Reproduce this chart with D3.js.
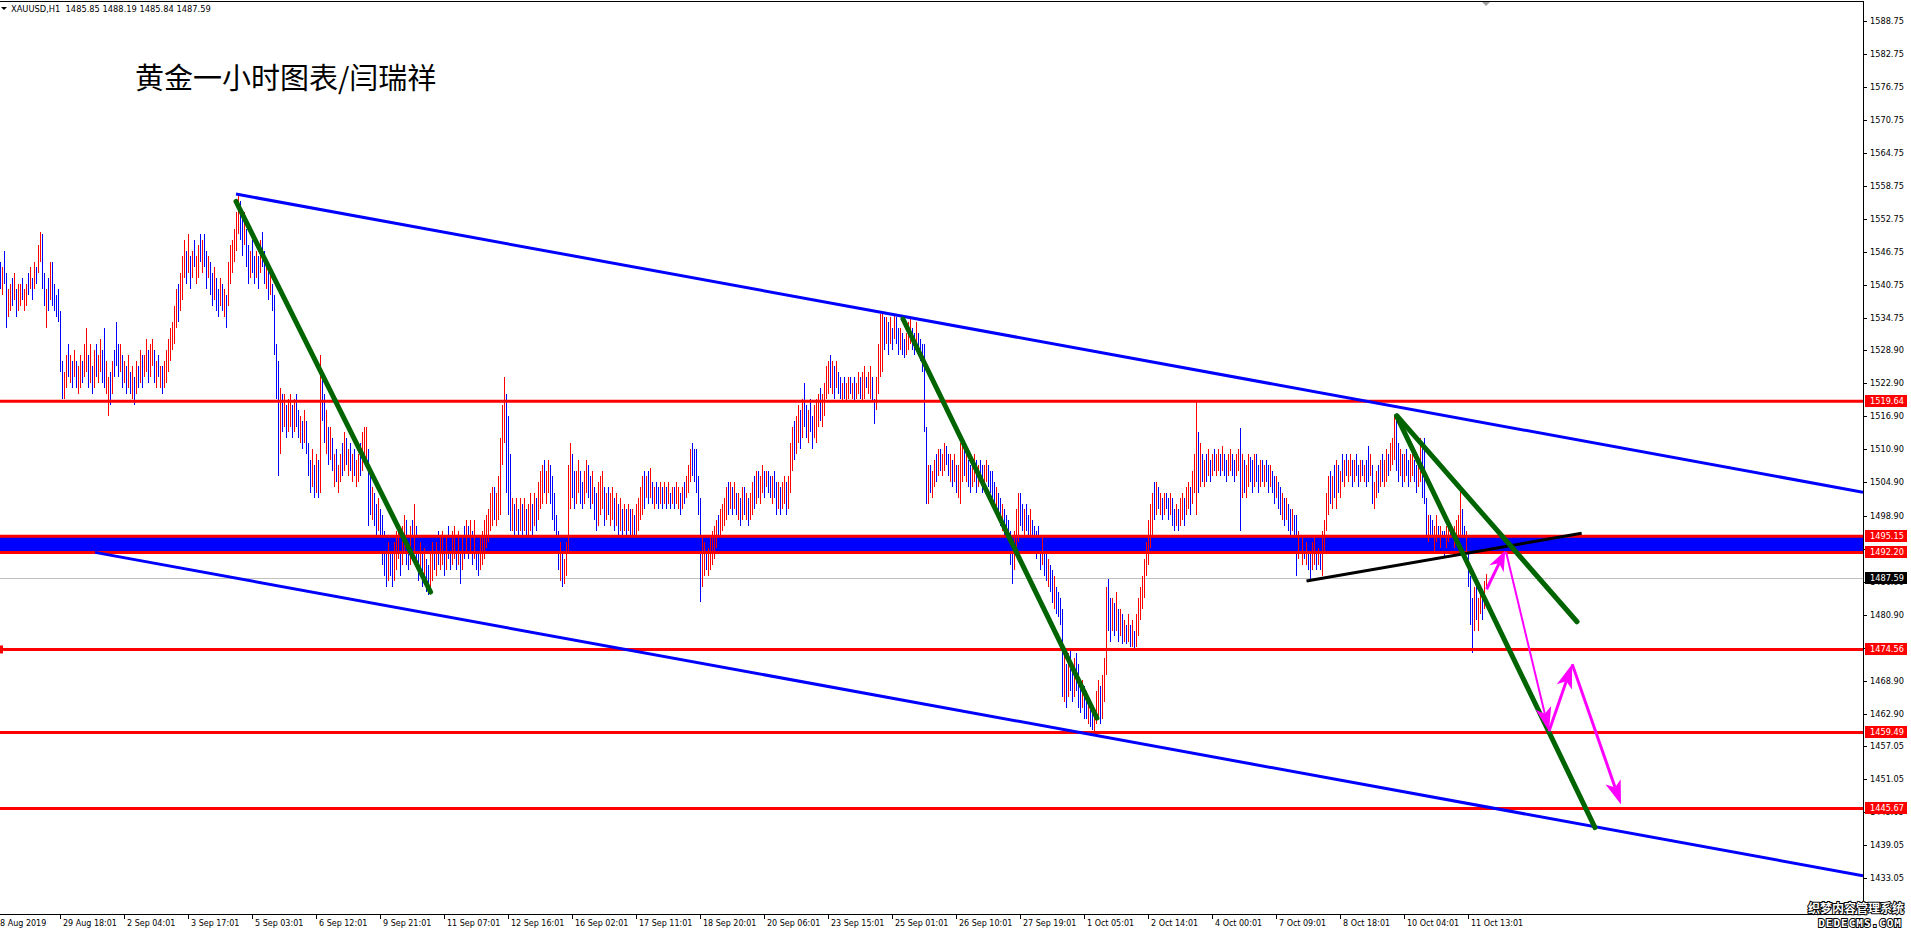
<!DOCTYPE html>
<html><head><meta charset="utf-8">
<script src="https://cdn.jsdelivr.net/npm/d3@7"></script>
<style>body{margin:0;background:#fff;overflow:hidden}svg{display:block}</style>
</head><body><svg id="c" width="1911" height="936"></svg>
<script>
const symbolInfo = "XAUUSD,H1  1485.85 1488.19 1485.84 1487.59";
const chartTitle = "黄金一小时图表/闫瑞祥";

// H1 bars (one per hour), low / high / direction (1 = up bar red, 0 = down bar blue)
const barLow = [
1540,1539,1541,1533,1535,1536,1537,1538,1535,1536,
1537,1538,1536,1537,1539,1540,1538,1540,1541,1543,
1545,1540,1537,1533,1536,1538,1537,1536,1535,1534,
1525,1520,1520,1522,1524,1523,1522,1524,1522,1521,
1522,1523,1524,1525,1522,1523,1521,1522,1524,1523,
1525,1523,1522,1521,1517,1519,1521,1524,1526,1524,
1525,1522,1523,1521,1522,1521,1520,1519,1521,1522,
1523,1522,1524,1525,1523,1524,1526,1523,1522,1524,
1522,1521,1522,1523,1525,1527,1529,1530,1533,1534,
1536,1538,1542,1541,1543,1540,1542,1544,1541,1542,
1545,1543,1544,1540,1542,1539,1537,1538,1536,1535,
1537,1536,1535,1533,1537,1541,1543,1545,1547,1550,
1549,1546,1548,1544,1541,1542,1543,1541,1542,1540,
1543,1544,1541,1540,1538,1539,1536,1528,1520,1506,
1510,1514,1515,1513,1514,1515,1513,1514,1515,1513,
1512,1511,1512,1510,1506,1503,1504,1502,1503,1502,
1503,1516,1512,1510,1508,1509,1507,1504,1505,1503,
1505,1506,1507,1508,1506,1507,1505,1506,1504,1505,
1506,1507,1509,1508,1497,1499,1498,1497,1495,1496,
1494,1490,1488,1486,1487,1488,1486,1487,1489,1491,
1488,1490,1492,1490,1489,1490,1491,1492,1490,1487,
1488,1486,1487,1485,1484.5,1486,1487,1489,1488,1490,
1489,1490,1488,1489,1491,1489,1490,1491,1489,1490,
1486.5,1489,1491,1492,1491,1492,1490,1491,1489,1488,
1489,1490,1491,1493,1494,1496,1497,1498,1497,1498,
1499,1508,1512,1503,1499,1496,1496,1495,1496,1495,
1496,1495,1496,1494,1495,1496,1495,1497,1496,1498,
1500,1501,1503,1501,1503,1501,1498,1496,1493,1489,
1487,1486,1486.5,1488,1492,1500,1502,1500,1501,1503,
1501,1500,1501,1503,1502,1500,1501,1498,1496,1497,
1499,1500,1497,1498,1499,1497,1498,1496,1497,1495,
1496,1495,1496,1495,1496,1494,1495,1494,1495,1496,
1498,1499,1500,1502,1501,1502,1501,1500,1501,1500,
1501,1500,1501,1500,1501,1500,1501,1500,1501,1500,
1499,1500,1501,1502,1503,1505,1506,1505,1503,1499,
1483.2,1486,1488,1489,1488,1489,1490,1491,1493,1494,
1495,1496,1497,1498,1499,1500,1499,1500,1499,1498,
1497,1498,1499,1498,1497,1498,1499,1500,1501,1502,
1501,1503,1502,1504,1503,1502,1501,1502,1499,1500,
1499,1500,1501,1499,1500,1503,1507,1509,1510,1512,
1511,1513,1515,1513,1512,1514,1511,1513,1512,1515,
1516,1515,1517,1520,1521,1522,1521,1520,1522,1521,
1520,1519.5,1520,1519.5,1520,1521,1520,1519.5,1520,1521,
1520,1519.5,1520,1522,1521,1520,1519.5,1515.5,1518,1521,
1524,1525,1529,1530,1528,1530,1529,1531,1530,1528,
1529,1528,1527.5,1528,1529,1530,1529,1528,1530,1528,
1527,1525,1514,1501,1501,1503,1502,1504,1505,1506,
1507,1506,1507,1508,1506,1505,1504,1505,1503,1502,
1501,1505,1506,1505,1504,1503,1504,1505,1503,1504,
1505,1503,1504,1505,1504,1503,1502,1501,1499,1498,
1497,1496,1495,1494,1492,1490,1486.5,1489,1492,1494,
1497,1496,1495,1496,1494,1495,1494,1493,1491,1492,
1489,1490,1488,1487,1486,1485,1483,1482,1481,1480.5,
1479,1466,1465,1464,1466,1467,1465,1466,1467,1464,
1463,1464,1462,1462,1461,1460.5,1460,1459.7,1461,1462,
1461,1462,1465,1470,1478,1476,1478,1477,1478,1476,
1477,1475.5,1476,1475.5,1476,1475,1475,1474.8,1475,1477,
1480,1482,1484,1488,1490,1493,1495,1498,1499,1500,
1499,1498,1499,1500,1498,1499,1497,1496,1497,1496,
1497,1498,1497,1499,1500,1499,1501,1503,1499,1503,
1504,1505,1504,1505,1506,1505,1506,1507,1506,1507,
1506,1507,1506,1505,1506,1507,1506,1505,1506,1507,
1496,1502,1503,1502,1504,1505,1503,1504,1505,1503,
1504,1505,1504,1505,1503,1504,1503,1501,1502,1500,
1499,1498,1497,1498,1496,1495,1496,1495,1488,1491,
1492,1490,1491,1490,1489,1487,1489,1490,1489,1490,
1489,1488,1492,1496,1499,1501,1500,1502,1500,1503,
1502,1505,1504,1506,1505,1506,1504,1505,1506,1504,
1505,1506,1505,1504,1505,1506,1501,1500,1502,1503,
1504,1505,1504,1505,1506,1507,1508,1509,1507,1505,
1506,1504,1505,1506,1504,1505,1506,1505,1503,1504,
1505,1502,1501,1492,1494,1495,1493,1492,1494,1492,
1493,1492,1491.5,1493,1494,1493,1492,1493,1494,1495,
1495,1493,1492,1492,1486,1479,1474,1478,1480,1478,
1481,1480,1482,1485.84];
const barHigh = [
1545,1544,1547,1543,1540,1541,1542,1543,1540,1541,
1541,1542,1540,1541,1543,1544,1542,1545,1544,1548,
1550.5,1550,1543,1540,1542,1545,1545,1541,1539,1540,
1536,1527,1525,1528,1530,1528,1527,1529,1527,1526,
1528,1527,1530,1533,1528,1530,1526,1529,1530,1528,
1531,1529,1533,1527,1524,1525,1527,1529,1534,1530,
1530,1528,1527,1526,1528,1525,1526,1524,1527,1526,
1529,1528,1528,1531,1529,1530,1531,1529,1527,1528,
1526,1526,1527,1529,1531,1533,1534,1537,1540,1541,
1543,1546,1549,1547,1550,1546,1547,1549,1546,1548,
1550,1549,1550,1547,1546,1545,1543,1544,1542,1540,
1542,1541,1540,1539,1545,1548,1549,1551,1554,1557,
1556,1553,1554,1551,1548,1547,1549,1546,1547,1546,
1549,1550.5,1547,1545,1544,1543,1541,1539,1530,1527,
1522,1521,1521,1519,1520,1521,1519,1520,1521,1518,
1517,1516,1518,1516,1512,1509,1511,1508,1510,1509,
1528,1524,1521,1518,1515,1515,1513,1510,1511,1508,
1510,1512,1514,1513,1511,1512,1510,1511,1509,1510,
1512,1514,1515,1515,1511,1506,1504,1503,1501,1502,
1500,1499,1496,1493,1494,1495,1492,1494,1496,1497,
1496,1497,1499,1498,1495,1497,1498,1501,1497,1494,
1494,1492,1493,1491,1490,1492,1494,1495,1494,1496,
1495,1496,1494,1495,1497,1495,1496,1497,1495,1496,
1494,1495,1497,1498,1497,1498,1496,1498,1495,1494,
1495,1496,1498,1499,1500,1503,1504,1504,1503,1506,
1513,1519,1524,1521,1517,1510,1502,1501,1502,1500,
1502,1501,1502,1500,1501,1503,1501,1503,1502,1505,
1507,1508,1509,1507,1509,1508,1506,1503,1499,1496,
1494,1492,1491,1494,1508,1512,1510,1507,1507,1509,
1507,1505,1507,1509,1508,1506,1507,1504,1503,1505,
1506,1507,1504,1503,1504,1503,1504,1502,1503,1501,
1502,1500,1501,1500,1501,1500,1500,1499,1501,1502,
1504,1506,1507,1506,1507,1507.5,1505,1504,1505,1504,
1505,1504,1505,1504,1505,1503,1504,1504,1505,1504,
1503,1504,1505,1506,1508,1511,1512,1511,1511,1506,
1502,1495,1494,1494,1493,1495,1496,1497,1498,1499,
1500,1501,1502,1504,1505,1505,1504,1505,1503,1503,
1502,1504,1504,1503,1502,1503,1505,1506,1507,1507,
1506,1508,1507,1507,1507,1506,1506,1507,1505,1505,
1504,1505,1506,1505,1506,1512,1515,1516,1517,1519,
1518,1520,1523,1519,1518,1520,1517,1519,1520,1521,
1522,1521,1523,1526,1527,1528,1527,1526,1527,1525,
1524,1523,1524,1523,1524,1524,1523,1524,1523,1525,
1524,1525,1526,1524,1525,1526,1524,1520,1524,1530,
1535.5,1535.7,1535,1535,1534,1535,1533,1535.5,1535,1533,
1533,1532,1531,1532,1534,1535,1533,1532,1534,1532,
1531,1530,1530,1515,1508,1508,1507,1509,1510,1511,
1511,1510,1512,1511.5,1510,1510,1509,1510,1508,1508,
1512,1512,1512.5,1510,1509,1508,1509,1510,1509,1508,
1509,1508,1508,1509,1508,1507,1507,1505,1504,1503,
1502,1501,1500,1499,1498,1496,1494,1496,1500,1503,
1503,1501,1500,1501,1499,1500,1498,1497,1496,1497,
1495,1495,1494,1492,1491,1490,1489,1488,1486,1485,
1484,1482,1474,1472,1474,1474.5,1472,1473,1474,1472,
1469,1469,1468,1467,1466,1465,1464,1463,1467,1469,
1468,1470,1473,1486,1487.3,1484,1484,1483,1485,1482,
1482,1481,1480,1479,1481,1479,1480,1478,1481,1484,
1486,1488,1491,1494,1498,1501,1503,1505,1505,1504,
1503,1502,1503,1503,1502,1503,1502,1500,1501,1500,
1502,1503,1502,1504,1505,1504,1507,1510,1519.5,1514,
1512,1510,1509,1510,1511,1509,1510,1511,1510,1511,
1510,1511.5,1510,1509,1510,1511,1510,1509,1510,1511,
1514.8,1510,1509,1508,1510,1509.5,1509,1510,1510,1508,
1509,1509,1508,1509,1508,1508,1507,1506,1506,1505,
1504,1503,1502,1502,1501,1500,1500,1499,1499,1496,
1495,1495,1494,1494,1493,1493,1494,1495,1494,1493,
1493,1496,1498,1503,1506,1507,1506,1508,1509,1508,
1507,1510,1509,1510,1509,1510,1509,1509,1510,1508,
1509,1509,1508,1509,1511.5,1510,1508,1505,1507,1508,
1509,1510,1509,1511,1510,1512,1513,1516.8,1516,1512,
1511,1510,1510,1511,1509,1510,1511,1509,1508,1509,
1513,1512,1513,1502,1499,1499,1498,1497,1499,1497,
1497,1496,1496,1497,1498,1497,1496,1497,1498,1499,
1503.5,1500,1497,1496,1493,1488,1484,1486,1487,1484,
1486,1485,1487,1488.19];
const barUp = (
"0100110101 1011010101 1001010000 0011010101 1011010101 " +
"1001101000 1010101010 1011011010 1011111110 1110101011 " +
"0100100100 1010111111 0010010010 1001010000 1010110100 " +
"1010001010 1001010101 1010101011 0111001001 0000100111 " +
"0110010100 1010011010 1101001101 0101010100 1111111011 " +
"1110001010 1010110101 1101100000 1011110011 0011001001 " +
"1101011010 1010101011 1101010100 1010101011 0101110000 " +
"0110111110 1111010101 0101011010 1101001001 0110111011 " +
"0100100111 0111101010 0101101011 0110110011 1101010100 " +
"1001110010 0000101101 0110010101 1101001101 0011000010 " +
"0100000111 0010010000 0100100100 0010100100 0100100111 " +
"0111001010 1010101011 1111111010 1010010010 1101101110 " +
"1010101011 0100110011 0101100100 1010010010 0101001001 " +
"0101001101 0111101010 1010110100 1010010110 1011011100 " +
"1010011001 1000100110 1001100111 1001000101 1011").replace(/ /g, "");

// time axis: label text and bar index of each label
const firstDateLabel = "28 Aug 2019";
const timeLabels = ["29 Aug 18:01","2 Sep 04:01","3 Sep 17:01","5 Sep 03:01","6 Sep 12:01","9 Sep 21:01",
  "11 Sep 07:01","12 Sep 16:01","16 Sep 02:01","17 Sep 11:01","18 Sep 20:01","20 Sep 06:01",
  "23 Sep 15:01","25 Sep 01:01","26 Sep 10:01","27 Sep 19:01","1 Oct 05:01","2 Oct 14:01",
  "4 Oct 00:01","7 Oct 09:01","8 Oct 18:01","10 Oct 04:01","11 Oct 13:01"];
const timeLabelBars = [30,62,94,126,158,190,222,254,286,318,350,382,414,446,478,510,542,574,606,638,670,702,734];

// price axis (1492.90 and 1474.90 sit fully under price tags)
const priceTicks = [1588.75,1582.75,1576.75,1570.75,1564.75,1558.75,1552.75,1546.75,1540.75,1534.75,
  1528.90,1522.90,1516.90,1510.90,1504.90,1498.90,1492.90,1486.90,1480.90,1474.90,1468.90,1462.90,
  1457.05,1451.05,1445.05,1439.05,1433.05];
const hiddenTickLabels = [1492.90, 1474.90];
const priceDomain = [1426.5, 1592.2];
const barDomain = [0, 931.5];

// drawn objects
const hLevels = [1519.64, 1474.56, 1459.49, 1445.67];
const zoneLevels = [1495.15, 1492.20];
const lastPrice = 1487.59;
const channelLines = [ [[118, 1557.3], [931.5, 1503.14]], [[47.5, 1492.2], [931.5, 1433.45]] ];
const greenLines = [ [[118, 1555.96], [215.3, 1485.0]], [[451.5, 1534.6], [548.5, 1462.1]],
  [[698.25, 1517.0], [797.5, 1442.2]], [[698.5, 1517.0], [788.5, 1479.6]] ];
const blackLines = [ [[653.25, 1487.0], [790.85, 1495.67]] ];
const magentaArrows = [ [[743.3, 1485.5], [752.6, 1492.5]], [[753, 1492.3], [774.5, 1459.7]],
  [[774.5, 1459.7], [786.1, 1471.9]], [[786.1, 1471.9], [810.5, 1446.4]] ];

// ---------------- drawing ----------------
const plotL = 0, plotR = 1863, plotT = 2, plotB = 914;
const FONT = "'DejaVu Sans', Tahoma, sans-serif";
const x = d3.scaleLinear().domain(barDomain).range([plotL, plotR]);
const y = d3.scaleLinear().domain(priceDomain).range([plotB, plotT]);
const svg = d3.select("#c");
svg.append("rect").attr("width", 1911).attr("height", 936).attr("fill", "#fff");
svg.append("defs").append("clipPath").attr("id", "clip").append("rect")
  .attr("x", plotL).attr("y", plotT).attr("width", plotR - plotL).attr("height", plotB - plotT);
const g = svg.append("g").attr("clip-path", "url(#clip)");

// zone fill
g.append("rect").attr("x", plotL).attr("width", plotR - plotL)
  .attr("y", y(zoneLevels[0])).attr("height", y(zoneLevels[1]) - y(zoneLevels[0])).attr("fill", "#0000ff");
// last price line
g.append("line").attr("x1", plotL).attr("x2", plotR).attr("y1", Math.round(y(lastPrice)) + 0.5)
  .attr("y2", Math.round(y(lastPrice)) + 0.5).attr("stroke", "#c0c0c0").attr("stroke-width", 1);
// bars
g.append("g").selectAll("line").data(barLow).join("line")
  .attr("x1", (d, i) => Math.round(x(i)) + 0.5).attr("x2", (d, i) => Math.round(x(i)) + 0.5)
  .attr("y1", (d, i) => y(barHigh[i])).attr("y2", d => y(d))
  .attr("stroke", (d, i) => barUp[i] === "1" ? "#ff0000" : "#0000ff").attr("stroke-width", 1)
  .attr("shape-rendering", "crispEdges");
// horizontal levels
g.append("g").selectAll("line").data(hLevels.concat(zoneLevels)).join("line")
  .attr("x1", plotL).attr("x2", plotR).attr("y1", d => y(d)).attr("y2", d => y(d))
  .attr("stroke", "#ff0000").attr("stroke-width", 3);
g.append("rect").attr("x", 0).attr("y", y(hLevels[1]) - 4).attr("width", 3).attr("height", 8).attr("fill", "#ff0000");

const lineGen = d3.line().x(d => x(d[0])).y(d => y(d[1]));
g.append("g").selectAll("path").data(channelLines).join("path").attr("d", lineGen)
  .attr("stroke", "#0000ff").attr("stroke-width", 3).attr("fill", "none");
g.append("g").selectAll("path").data(blackLines).join("path").attr("d", lineGen)
  .attr("stroke", "#000").attr("stroke-width", 3).attr("fill", "none");
g.append("g").selectAll("path").data(greenLines).join("path").attr("d", lineGen)
  .attr("stroke", "#006400").attr("stroke-width", 5).attr("fill", "none").attr("stroke-linecap", "round");

// magenta arrows
const ag = g.append("g");
magentaArrows.forEach((a, k) => {
  const x0 = x(a[0][0]), y0 = y(a[0][1]), x1 = x(a[1][0]), y1 = y(a[1][1]);
  const dx = x1 - x0, dy = y1 - y0, L = Math.hypot(dx, dy), ux = dx / L, uy = dy / L;
  const hl = k === 0 ? 20 : 24, hw = 8;
  const bx = x1 - ux * hl, by = y1 - uy * hl;
  ag.append("line").attr("x1", x0).attr("y1", y0).attr("x2", bx + ux * 6).attr("y2", by + uy * 6)
    .attr("stroke", "#ff00ff").attr("stroke-width", k === 1 ? 2 : 3);
  ag.append("path").attr("d", `M${x1},${y1}L${bx - uy * hw},${by + ux * hw}L${bx + ux * 6},${by + uy * 6}L${bx + uy * hw},${by - ux * hw}Z`)
    .attr("fill", "#ff00ff");
});

// frame
const fr = svg.append("g").attr("stroke", "#000").attr("stroke-width", 1).attr("shape-rendering", "crispEdges");
fr.append("line").attr("x1", 0).attr("x2", plotR + 0.5).attr("y1", 1.5).attr("y2", 1.5);
fr.append("line").attr("x1", plotR + 0.5).attr("x2", plotR + 0.5).attr("y1", 1.5).attr("y2", plotB + 0.5);
fr.append("line").attr("x1", 0).attr("x2", plotR + 0.5).attr("y1", plotB + 0.5).attr("y2", plotB + 0.5);

// price axis
const pa = svg.append("g");
pa.selectAll("line").data(priceTicks).join("line")
  .attr("x1", plotR + 1).attr("x2", plotR + 4).attr("y1", d => Math.round(y(d)) + 0.5).attr("y2", d => Math.round(y(d)) + 0.5)
  .attr("stroke", "#000").attr("shape-rendering", "crispEdges");
pa.selectAll("text").data(priceTicks.filter(t => !hiddenTickLabels.includes(t))).join("text")
  .attr("x", plotR + 7).attr("y", d => y(d) + 3).text(d => d.toFixed(2))
  .attr("font-family", FONT).attr("font-size", "8.2px").attr("fill", "#000");
// price tags
const tags = hLevels.concat(zoneLevels).map(v => ({v, bg: "#ff0000"})).concat([{v: lastPrice, bg: "#000"}]);
const tg = svg.append("g");
tags.forEach(t => {
  tg.append("rect").attr("x", plotR + 2).attr("y", Math.round(y(t.v)) - 6).attr("width", 42).attr("height", 12).attr("fill", t.bg);
  tg.append("text").attr("x", plotR + 7).attr("y", y(t.v) + 3).text(t.v.toFixed(2))
    .attr("font-family", FONT).attr("font-size", "8.2px").attr("fill", "#fff");
});

// time axis
const ta = svg.append("g");
ta.selectAll("line").data(timeLabelBars).join("line")
  .attr("x1", d => Math.round(x(d)) + 0.5).attr("x2", d => Math.round(x(d)) + 0.5).attr("y1", plotB).attr("y2", plotB + 5)
  .attr("stroke", "#000").attr("shape-rendering", "crispEdges");
ta.selectAll("text").data(timeLabels).join("text")
  .attr("x", (d, i) => x(timeLabelBars[i]) + 3).attr("y", plotB + 12).text(d => d)
  .attr("font-family", FONT).attr("font-size", "8px").attr("fill", "#000");
ta.append("text").attr("x", x(0) - 5).attr("y", plotB + 12).text(firstDateLabel)
  .attr("font-family", FONT).attr("font-size", "8px").attr("fill", "#000");

// header and title
svg.append("path").attr("d", "M1,7L7,7L4,10Z").attr("fill", "#000");
svg.append("text").attr("x", 11).attr("y", 12).text(symbolInfo).attr("xml:space", "preserve")
  .style("white-space", "pre").attr("font-family", FONT).attr("font-size", "8.3px").attr("fill", "#000");
svg.append("text").attr("x", 135).attr("y", 89).text(chartTitle)
  .attr("font-family", "'Noto Sans CJK SC', sans-serif").attr("font-size", "29px").attr("fill", "#000");
// chart shift marker
svg.append("path").attr("d", `M${x(743) - 4},2L${x(743) + 4},2L${x(743)},6Z`).attr("fill", "#a0a0a0");

// watermark
svg.append("text").attr("x", 1904).attr("y", 913).attr("text-anchor", "end").text("织梦内容管理系统")
  .attr("font-family", "'Noto Sans CJK SC', sans-serif").attr("font-size", "12px").attr("font-weight", "bold")
  .attr("fill", "#fff").attr("stroke", "#000").attr("stroke-width", 2).attr("paint-order", "stroke");
svg.append("text").attr("x", 1902).attr("y", 927).attr("text-anchor", "end").text("DEDECMS.COM")
  .attr("font-family", "'DejaVu Sans Mono', monospace").attr("font-size", "11px").attr("font-weight", "bold").attr("letter-spacing", "1px")
  .attr("fill", "#fff").attr("stroke", "#000").attr("stroke-width", 2).attr("paint-order", "stroke");
</script></body></html>
